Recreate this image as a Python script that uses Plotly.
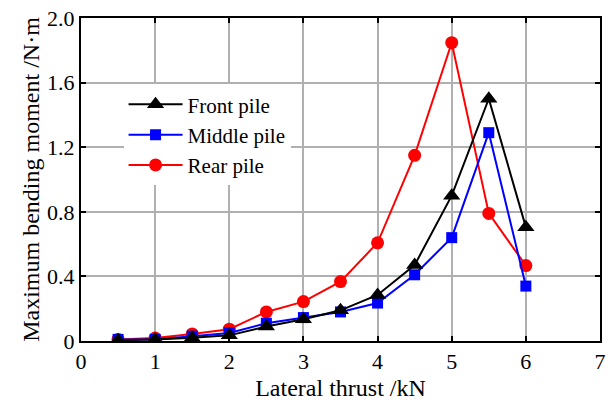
import plotly.graph_objects as go

# Lateral thrust levels (kN)
thrust = [0.5, 1.0, 1.5, 2.0, 2.5, 3.0, 3.5, 4.0, 4.5, 5.0, 5.5, 6.0]

# Maximum bending moment of each pile (N·m)
front_pile = [0.005, 0.01, 0.02, 0.035, 0.09, 0.135, 0.19, 0.285, 0.47, 0.90, 1.50, 0.705]
middle_pile = [0.01, 0.01, 0.03, 0.05, 0.11, 0.145, 0.18, 0.235, 0.41, 0.64, 1.29, 0.34]
rear_pile = [0.01, 0.018, 0.044, 0.073, 0.18, 0.244, 0.368, 0.608, 1.15, 1.847, 0.79, 0.467]

# (name, values, colour, marker, marker size, legend rank)
series = [
    ("Rear pile", rear_pile, "#ff0000", "circle", 13, 3),
    ("Middle pile", middle_pile, "#0000ff", "square", 11, 2),
    ("Front pile", front_pile, "#000000", "triangle-up", 15, 1),
]

font_family = "Liberation Serif, Times New Roman, serif"

fig = go.Figure()
for name, values, color, symbol, size, rank in series:
    fig.add_trace(go.Scatter(
        x=thrust, y=values, name=name, mode="lines+markers",
        legendrank=rank,
        line=dict(color=color, width=2),
        marker=dict(symbol=symbol, size=size, color=color),
    ))

axis_common = dict(
    showline=True, linecolor="black", linewidth=2, mirror="ticks",
    ticks="inside", ticklen=5, tickwidth=2, tickcolor="black",
    showgrid=True, gridcolor="#b0b0b0", gridwidth=2,
    zeroline=False,
    tickfont=dict(family=font_family, size=22, color="black"),
    title_font=dict(family=font_family, size=24, color="black"),
)

fig.update_xaxes(
    range=[0, 7], tickvals=[0, 1, 2, 3, 4, 5, 6, 7],
    title_text="Lateral thrust /kN", title_standoff=6,
    **axis_common,
)
fig.update_yaxes(
    range=[0, 2.0], tickvals=[0, 0.4, 0.8, 1.2, 1.6, 2.0],
    ticktext=["0", "0.4", "0.8", "1.2", "1.6", "2.0"],
    title_text="Maximum bending moment /N·m", title_standoff=1,
    **axis_common,
)

fig.update_layout(
    width=612, height=403,
    margin=dict(l=81, r=6, t=14, b=60),
    plot_bgcolor="white", paper_bgcolor="white",
    font=dict(family=font_family, color="black"),
    legend=dict(
        x=0.082, y=0.795, xanchor="left", yanchor="top",
        bgcolor="white", borderwidth=0, itemwidth=54,
        font=dict(family=font_family, size=21, color="black"),
    ),
    showlegend=True,
)

fig.write_html("out.html")
